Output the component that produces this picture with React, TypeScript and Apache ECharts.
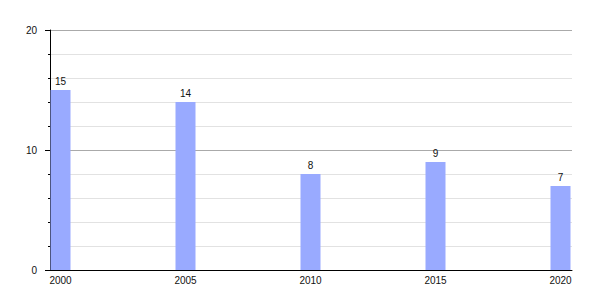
import React, { useEffect, useRef } from "react";
import * as echarts from "echarts";

const years = [2000, 2005, 2010, 2015, 2020];
const values = [15, 14, 8, 9, 7];
const yTicks = [0, 10, 20];

export default function App() {
  const ref = useRef<HTMLDivElement>(null);
  useEffect(() => {
    if (!ref.current) return;
    const chart = echarts.init(ref.current, null, { renderer: "svg" });
    const font = "'Liberation Sans', Arial, Helvetica, sans-serif";
    chart.setOption({
      animation: false,
      grid: { left: 42, right: 20, top: 22, bottom: 22, containLabel: false },
      xAxis: {
        type: "value",
        min: 1999.58,
        max: 2020.46,
        axisLine: { show: true, lineStyle: { color: "#000", width: 1 } },
        axisTick: { show: false },
        splitLine: { show: false },
        axisLabel: {
          customValues: years,
          formatter: (v: number) => String(Math.round(v)),
          color: "#111",
          fontSize: 10,
          fontFamily: font,
          margin: 5,
        },
      },
      yAxis: {
        type: "value",
        min: yTicks[0],
        max: yTicks[yTicks.length - 1],
        interval: 10,
        axisLine: { show: true, lineStyle: { color: "#000", width: 1 } },
        axisTick: { show: true, length: 5, lineStyle: { color: "#000" } },
        minorTick: { show: true, splitNumber: 5, length: 2, lineStyle: { color: "#000" } },
        splitLine: { show: true, lineStyle: { color: "#aaaaaa", width: 1 } },
        minorSplitLine: { show: true, lineStyle: { color: "#e2e2e2", width: 1 } },
        axisLabel: { color: "#111", fontSize: 10, fontFamily: font, margin: 13 },
      },
      series: [
        {
          type: "bar",
          data: years.map((y, i) => [y, values[i]]),
          barWidth: 20,
          itemStyle: { color: "#99aaff" },
          label: {
            show: true,
            position: "top",
            distance: 4,
            color: "#111",
            fontSize: 10,
            fontFamily: font,
          },
        },
      ],
    });
    return () => chart.dispose();
  }, []);
  return <div ref={ref} style={{ width: 584, height: 284 }} />;
}
